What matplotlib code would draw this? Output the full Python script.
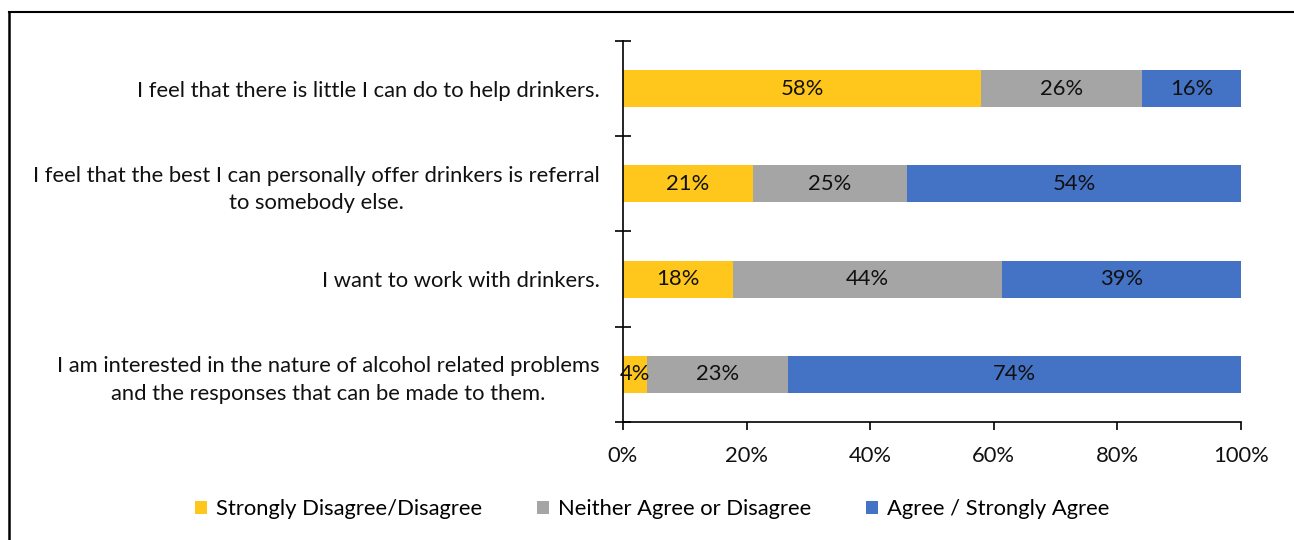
import numpy as np
import matplotlib.pyplot as plt
from matplotlib.lines import Line2D
from matplotlib.patches import Patch

plt.rcParams['font.family'] = ['Lato', 'DejaVu Sans']

statements = [
    "I feel that there is little I can do to help drinkers.",
    "I feel that the best I can personally offer drinkers is referral\nto somebody else.",
    "I want to work with drinkers.",
    "I am interested in the nature of alcohol related problems\nand the responses that can be made to them.",
]
series_names = ["Strongly Disagree/Disagree", "Neither Agree or Disagree", "Agree / Strongly Agree"]
disagree = [58, 21, 18, 4]
neutral = [26, 25, 44, 23]
agree = [16, 54, 39, 74]
colors = ["#FFC61C", "#A5A5A5", "#4472C4"]

vals = np.array([disagree, neutral, agree], dtype=float)
shares = vals / vals.sum(axis=0)  # 100% stacked

fs = 15.8
fig = plt.figure(figsize=(12.94, 5.4), dpi=100)
ax = fig.add_axes([623 / 1294, 1 - 422 / 540, (1241 - 623) / 1294, (422 - 41) / 540])

y = np.arange(len(statements))
left = np.zeros(len(statements))
for i in range(3):
    ax.barh(y, shares[i], left=left, height=0.39, color=colors[i], edgecolor='none')
    for j in range(len(statements)):
        ax.text(left[j] + shares[i][j] / 2, y[j], f"{int(vals[i][j])}%",
                ha='center', va='center', fontsize=fs, color='#111111')
    left += shares[i]

ax.set_xlim(0, 1)
ax.set_ylim(len(statements) - 0.5, -0.5)
ax.set_xticks(np.linspace(0, 1, 6))
ax.set_xticklabels([f"{int(v)}%" for v in np.linspace(0, 100, 6)], fontsize=fs, color='#111111')
ax.tick_params(axis='x', length=6, width=1.2, pad=11, direction='out')

# category boundaries as major ticks, labels on minor ticks
ax.set_yticks(np.arange(-0.5, len(statements), 1.0))
ax.set_yticklabels([])
ax.tick_params(axis='y', which='major', direction='inout', length=12, width=1.2)
ax.set_yticks(y, minor=True)
ax.set_yticklabels(statements, minor=True, fontsize=fs, color='#111111',
                   multialignment='center', linespacing=1.45)
ax.tick_params(axis='y', which='minor', length=0, pad=17)

for s in ['top', 'right']:
    ax.spines[s].set_visible(False)
ax.spines['left'].set_linewidth(1.2)
ax.spines['bottom'].set_linewidth(1.2)

handles = [Patch(facecolor=c, edgecolor='none') for c in colors]
fig.legend(handles, series_names, loc='center', bbox_to_anchor=(652 / 1294, 1 - 509 / 540),
           ncol=3, frameon=False, fontsize=fs, handlelength=0.55, handleheight=0.55,
           handletextpad=0.4, columnspacing=2.5)

# outer frame lines (top and left)
fig.add_artist(Line2D([9 / 1294, 1], [1 - 12 / 540, 1 - 12 / 540], color='black', lw=1.5))
fig.add_artist(Line2D([9 / 1294, 9 / 1294], [0, 1 - 12 / 540], color='black', lw=1.8))

fig.savefig('out.png', dpi=100)
